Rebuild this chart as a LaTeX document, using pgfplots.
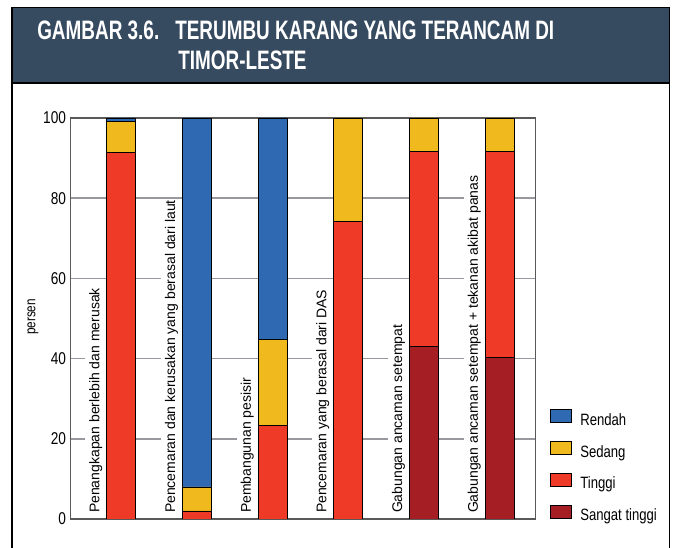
\documentclass[border=0pt]{standalone}
\usepackage{fontspec}
\setmainfont{Liberation Sans}[FakeStretch=0.8]
\newfontfamily\labfont{Liberation Sans}
\newfontfamily\headfont{Liberation Sans}[FakeStretch=0.71]
\usepackage{pgfplots}
\pgfplotsset{compat=1.18}

\definecolor{rendah}{RGB}{47,105,178}
\definecolor{sedang}{RGB}{240,186,30}
\definecolor{tinggi}{RGB}{238,58,38}
\definecolor{sangat}{RGB}{164,30,36}
\definecolor{kepala}{RGB}{54,74,96}
\definecolor{gridc}{RGB}{152,152,158}

\tikzset{catlab/.style={rotate=90, anchor=west, fill=white, inner xsep=1pt, inner ysep=3pt, font=\labfont\fontsize{10.5}{11}\selectfont}}

\begin{document}
\begin{tikzpicture}
% frame and header, in pixel units of the reference (y downwards)
\begin{scope}[x=0.75pt, y=-0.75pt, xshift=-53.025pt, yshift=389.25pt]
  \path[use as bounding box] (0,0) rectangle (673,548);
  \draw[black, line width=1.2pt] (12,560) -- (12,7.5) -- (669.5,7.5) -- (669.5,560);
  \filldraw[fill=kepala, draw=black, line width=1.2pt] (12,7.5) rectangle (669.5,83);
  \node[anchor=base west, inner sep=0pt, text=white, font=\headfont\bfseries\fontsize{20}{22}\selectfont] at (37,39.3) {GAMBAR 3.6.};
  \node[anchor=base west, inner sep=0pt, text=white, font=\headfont\bfseries\fontsize{20}{22}\selectfont] at (175,39.3) {TERUMBU KARANG YANG TERANCAM DI};
  \node[anchor=base west, inner sep=0pt, text=white, font=\headfont\bfseries\fontsize{20}{22}\selectfont] at (178,70) {TIMOR-LESTE};
\end{scope}

\begin{axis}[
    at={(0,0)}, anchor=south west,
    scale only axis,
    width=348.75pt, height=300.75pt,
    xmin=-0.667, xmax=5.474,
    ymin=0, ymax=100,
    ybar stacked,
    bar width=21.75pt,
    xtick=\empty,
    ytick={0,20,40,60,80,100},
    major tick length=0pt,
    ymajorgrids,
    grid style={gridc, line width=1.1pt},
    axis line style={black!65, line width=1pt},
    /pgf/number format/assume math mode=true,
    yticklabel style={font=\fontsize{12.8}{13}\selectfont},
    ylabel={persen},
    ylabel style={at={(axis description cs:-0.081,0.504)}, anchor=center, font=\fontsize{11}{12}\selectfont},
    reverse legend,
    legend image code/.code={\draw[#1, line width=0.6pt] (0pt,-1pt) rectangle (15.75pt,8.75pt);},
    legend style={
        at={(axis description cs:1,0)}, anchor=south west,
        xshift=10.7pt, yshift=-4pt,
        draw=none, fill=none, inner sep=0pt,
        row sep=9.3pt,
        font=\fontsize{12.3}{13}\selectfont,
        nodes={inner sep=0pt, text height=8.5pt, text depth=2.5pt},
        /tikz/every odd column/.append style={column sep=6.2pt},
    },
    legend cell align=left,
]
\addplot[fill=sangat, draw=black, line width=0.6pt] coordinates {(0,0) (1,0) (2,0) (3,0) (4,43.0) (5,40.2)};
\addplot[fill=tinggi, draw=black, line width=0.6pt] coordinates {(0,91.3) (1,2.0) (2,23.4) (3,74.1) (4,48.6) (5,51.4)};
\addplot[fill=sedang, draw=black, line width=0.6pt] coordinates {(0,7.8) (1,6.0) (2,21.4) (3,25.9) (4,8.4) (5,8.4)};
\addplot[fill=rendah, draw=black, line width=0.6pt] coordinates {(0,0.9) (1,92.0) (2,55.2) (3,0) (4,0) (5,0)};
\legend{Sangat tinggi, Tinggi, Sedang, Rendah}

\node[catlab] at (axis cs:-0.337,1.1) {Penangkapan berlebih dan merusak};
\node[catlab] at (axis cs:0.663,1.1) {Pencemaran dan kerusakan yang berasal dari laut};
\node[catlab] at (axis cs:1.663,1.1) {Pembangunan pesisir};
\node[catlab] at (axis cs:2.663,1.1) {Pencemaran yang berasal dari DAS};
\node[catlab] at (axis cs:3.663,1.1) {Gabungan ancaman setempat};
\node[catlab] at (axis cs:4.663,1.1) {Gabungan ancaman setempat + tekanan akibat panas};
\end{axis}
\end{tikzpicture}
\end{document}
